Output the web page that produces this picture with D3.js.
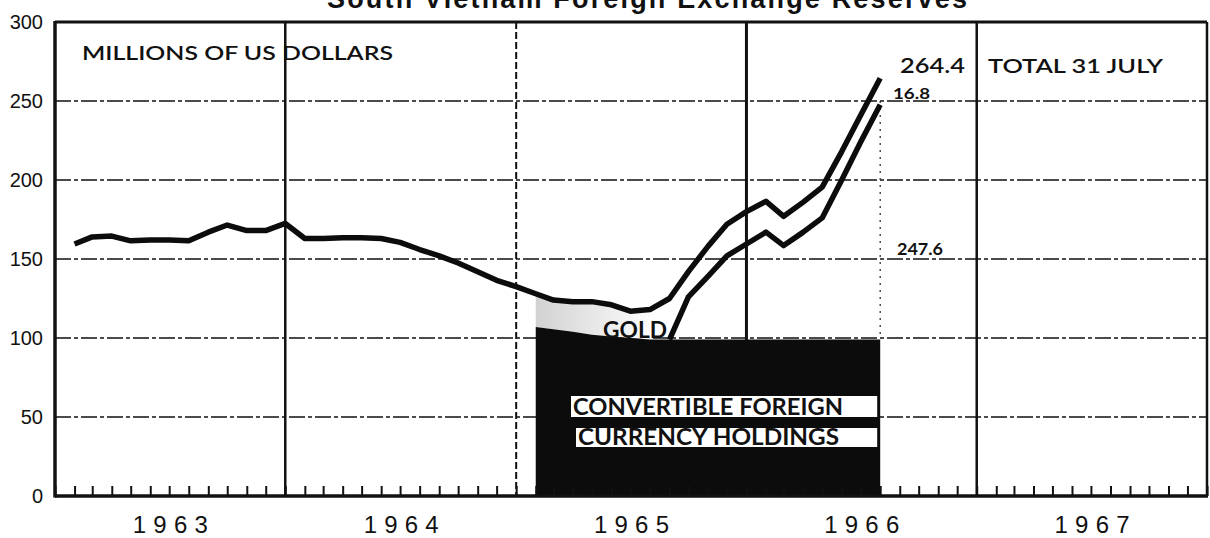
<!DOCTYPE html>
<html>
<head>
<meta charset="utf-8">
<script src="https://cdn.jsdelivr.net/npm/d3@7"></script>
<style>
body { margin: 0; background: #fff; }
svg text { font-family: "Liberation Sans", Arial, sans-serif; fill: #111; }
.geo { font-family: Lato, "DejaVu Sans", sans-serif !important; }
</style>
</head>
<body>
<svg id="chart" width="1210" height="538"></svg>
<script>
var years = [1963, 1964, 1965, 1966, 1967];
var yTicks = [0, 50, 100, 150, 200, 250, 300];
var gridValues = [50, 100, 150, 200, 250];

// total reserves, end of month, Jan 1963 - Jul 1966
var total = [
    159.5, 164, 164.5, 161.5, 162, 162, 161.5, 167, 171.5, 168, 168, 172.5,
    163, 163, 163.5, 163.5, 163, 160.5, 156, 152, 147.5, 142, 136.5, 132.5,
    128, 124, 123, 123, 121, 117, 118, 125, 142, 158, 172, 180,
    186.5, 177, 186, 195.5, 218, 241, 264.4
];
// convertible foreign currency holdings, end of month, Jan 1965 - Jul 1966
var currency = [
    107, 105.5, 104, 102, 101, 100, 99, 99, 126, 139, 152, 159.5,
    167, 158.5, 167, 176, 200, 224, 247.6
];
var lineStart = 7;   // currency line drawn from Aug 1965 on
var goldShadeEnd = 6; // halftone on gold band up to Jul 1965

var totalData = total.map(function(v, i) {
    return {date: d3.timeMonth.offset(new Date(1963, 1, 1), i), v: v};
});
var curData = currency.map(function(v, i) {
    return {date: d3.timeMonth.offset(new Date(1965, 1, 1), i), v: v};
});

// plot edges (don't use "top" - it's window.top)
var pLeft = 55, pRight = 1207, pTop = 22, pBottom = 496;

var x = d3.scaleTime()
    .domain([new Date(1963, 0, 1), new Date(1968, 0, 1)])
    .range([pLeft, pRight]);

var y = d3.scaleLinear()
    .domain([0, 300])
    .range([pBottom, pTop]);

var svg = d3.select("#chart");

var defs = svg.append("defs");
var grad = defs.append("linearGradient")
    .attr("id", "goldShade")
    .attr("gradientUnits", "userSpaceOnUse")
    .attr("x1", x(curData[0].date)).attr("x2", x(curData[goldShadeEnd].date))
    .attr("y1", 0).attr("y2", 0);
grad.append("stop").attr("offset", 0).attr("stop-color", "#d2d2d2");
grad.append("stop").attr("offset", 1).attr("stop-color", "#fcfcfc");

// title, cut off by the top of the page as in the scan
svg.append("text")
    .attr("x", 327).attr("y", 8)
    .attr("textLength", 640)
    .attr("lengthAdjust", "spacing")
    .style("font-size", "27px")
    .style("font-weight", "bold")
    .text("South Vietnam Foreign Exchange Reserves");

// horizontal grid
svg.append("g").selectAll("line")
    .data(gridValues)
    .enter().append("line")
    .attr("x1", pLeft).attr("x2", pRight)
    .attr("y1", function(d) { return y(d); })
    .attr("y2", function(d) { return y(d); })
    .attr("stroke", "#111")
    .attr("stroke-width", 1.5)
    .attr("stroke-dasharray", "16,3,4,3");

// year dividers
var dividers = [
    {date: new Date(1964, 0, 1), w: 2.5, dash: null},
    {date: new Date(1965, 0, 1), w: 2, dash: "7,3"},
    {date: new Date(1966, 0, 1), w: 3, dash: null},
    {date: new Date(1967, 0, 1), w: 2.5, dash: null},
    {date: new Date(1968, 0, 1), w: 2.5, dash: null}
];
svg.append("g").selectAll("line")
    .data(dividers)
    .enter().append("line")
    .attr("x1", function(d) { return x(d.date); })
    .attr("x2", function(d) { return x(d.date); })
    .attr("y1", pTop).attr("y2", pBottom)
    .attr("stroke", "#111")
    .attr("stroke-width", function(d) { return d.w; })
    .attr("stroke-dasharray", function(d) { return d.dash; });

// dotted marker at end of July 1966
var lastDate = curData[curData.length - 1].date;
svg.append("line")
    .attr("x1", x(lastDate)).attr("x2", x(lastDate))
    .attr("y1", y(250)).attr("y2", y(100))
    .attr("stroke", "#333")
    .attr("stroke-width", 1.3)
    .attr("stroke-dasharray", "2,5");

// gold band halftone
var goldPart = curData.slice(0, goldShadeEnd + 1).map(function(d, i) {
    return {date: d.date, lo: d.v, hi: total[24 + i]};
});
svg.append("path")
    .datum(goldPart)
    .attr("fill", "url(#goldShade)")
    .attr("d", d3.area()
        .x(function(d) { return x(d.date); })
        .y0(function(d) { return y(d.lo); })
        .y1(function(d) { return y(d.hi); }));

// black currency block, top held flat once the currency line takes over
var capV = currency[lineStart];
svg.append("path")
    .datum(curData)
    .attr("fill", "#0c0c0c")
    .attr("d", d3.area()
        .x(function(d) { return x(d.date); })
        .y0(pBottom)
        .y1(function(d, i) { return y(i <= lineStart ? d.v : capV); }));

// white label bands inside the block
var bands = [
    {text: "CONVERTIBLE FOREIGN", x: 571, y0: 396, y1: 417, tl: 270, base: 415},
    {text: "CURRENCY HOLDINGS", x: 576, y0: 428, y1: 447, tl: 261, base: 445}
];
var xEnd = x(lastDate);
svg.append("g").selectAll("rect")
    .data(bands)
    .enter().append("rect")
    .attr("x", function(d) { return d.x; })
    .attr("y", function(d) { return d.y0; })
    .attr("width", function(d) { return xEnd - 3 - d.x; })
    .attr("height", function(d) { return d.y1 - d.y0; })
    .attr("fill", "#fff");
svg.append("g").selectAll("text")
    .data(bands)
    .enter().append("text")
    .attr("class", "geo")
    .attr("x", function(d) { return d.x + 2; })
    .attr("y", function(d) { return d.base; })
    .attr("textLength", function(d) { return d.tl; })
    .attr("lengthAdjust", "spacingAndGlyphs")
    .style("font-size", "22px")
    .style("font-weight", "bold")
    .text(function(d) { return d.text; });

// lines
var line = d3.line()
    .x(function(d) { return x(d.date); })
    .y(function(d) { return y(d.v); });

svg.append("path")
    .datum(totalData)
    .attr("fill", "none")
    .attr("stroke", "#0c0c0c")
    .attr("stroke-width", 5.5)
    .attr("stroke-linejoin", "round")
    .attr("d", line);

svg.append("path")
    .datum(curData.slice(lineStart))
    .attr("fill", "none")
    .attr("stroke", "#0c0c0c")
    .attr("stroke-width", 5.5)
    .attr("stroke-linejoin", "round")
    .attr("d", line);

// month ticks on the base line
var xAxis = svg.append("g")
    .attr("transform", "translate(0," + pBottom + ")")
    .call(d3.axisBottom(x)
        .ticks(d3.timeMonth.every(1))
        .tickSizeInner(-10)
        .tickSizeOuter(0)
        .tickFormat(""));
xAxis.select(".domain").remove();
xAxis.selectAll("line").attr("stroke", "#111").attr("stroke-width", 2);

// year labels at mid-year
var yearAxis = svg.append("g")
    .attr("transform", "translate(0," + pBottom + ")")
    .call(d3.axisBottom(x)
        .tickValues(years.map(function(yr) { return new Date(yr, 6, 2); }))
        .tickSize(0)
        .tickFormat(d3.timeFormat("%Y")));
yearAxis.select(".domain").remove();
yearAxis.selectAll("text")
    .attr("y", 37)
    .attr("dy", 0)
    .attr("textLength", 75)
    .attr("lengthAdjust", "spacing")
    .style("font-size", "24px")
    .style("font-family", "'Liberation Sans', Arial, sans-serif")
    .attr("fill", "#111");

// value axis
var yAxis = svg.append("g")
    .attr("transform", "translate(" + (pLeft - 9) + ",0)")
    .call(d3.axisLeft(y)
        .tickValues(yTicks)
        .tickSize(0)
        .tickFormat(d3.format("d")));
yAxis.select(".domain").remove();
yAxis.selectAll("text")
    .attr("dy", "0.3em")
    .style("font-size", "20px")
    .style("font-family", "'Liberation Sans', Arial, sans-serif")
    .attr("fill", "#111");

// frame: left axis, top border, base line
svg.append("line").attr("x1", pLeft).attr("x2", pLeft).attr("y1", pTop - 1).attr("y2", pBottom + 1.5)
    .attr("stroke", "#111").attr("stroke-width", 3.5);
svg.append("line").attr("x1", pLeft).attr("x2", pRight).attr("y1", y(300)).attr("y2", y(300))
    .attr("stroke", "#111").attr("stroke-width", 3);
svg.append("line").attr("x1", pLeft).attr("x2", pRight + 1).attr("y1", pBottom).attr("y2", pBottom)
    .attr("stroke", "#111").attr("stroke-width", 3.5);

// annotations
var notes = [
    {text: "MILLIONS OF US DOLLARS", x: 82, y: 60, size: 20, w: 600, tl: 311},
    {text: "264.4", x: 900, y: 73, size: 21, w: 600, tl: 65},
    {text: "TOTAL 31 JULY", x: 988, y: 73, size: 20, w: 600, tl: 175},
    {text: "16.8", x: 893, y: 99, size: 16, w: "bold", tl: 37},
    {text: "247.6", x: 897, y: 255, size: 17, w: "bold", tl: 46},
    {text: "GOLD", x: 603, y: 338, size: 22, w: "bold", tl: 64}
];
svg.append("g").selectAll("text")
    .data(notes)
    .enter().append("text")
    .attr("class", "geo")
    .attr("x", function(d) { return d.x; })
    .attr("y", function(d) { return d.y; })
    .attr("textLength", function(d) { return d.tl; })
    .attr("lengthAdjust", "spacingAndGlyphs")
    .style("font-size", function(d) { return d.size + "px"; })
    .style("font-weight", function(d) { return d.w; })
    .text(function(d) { return d.text; });
</script>
</body>
</html>
